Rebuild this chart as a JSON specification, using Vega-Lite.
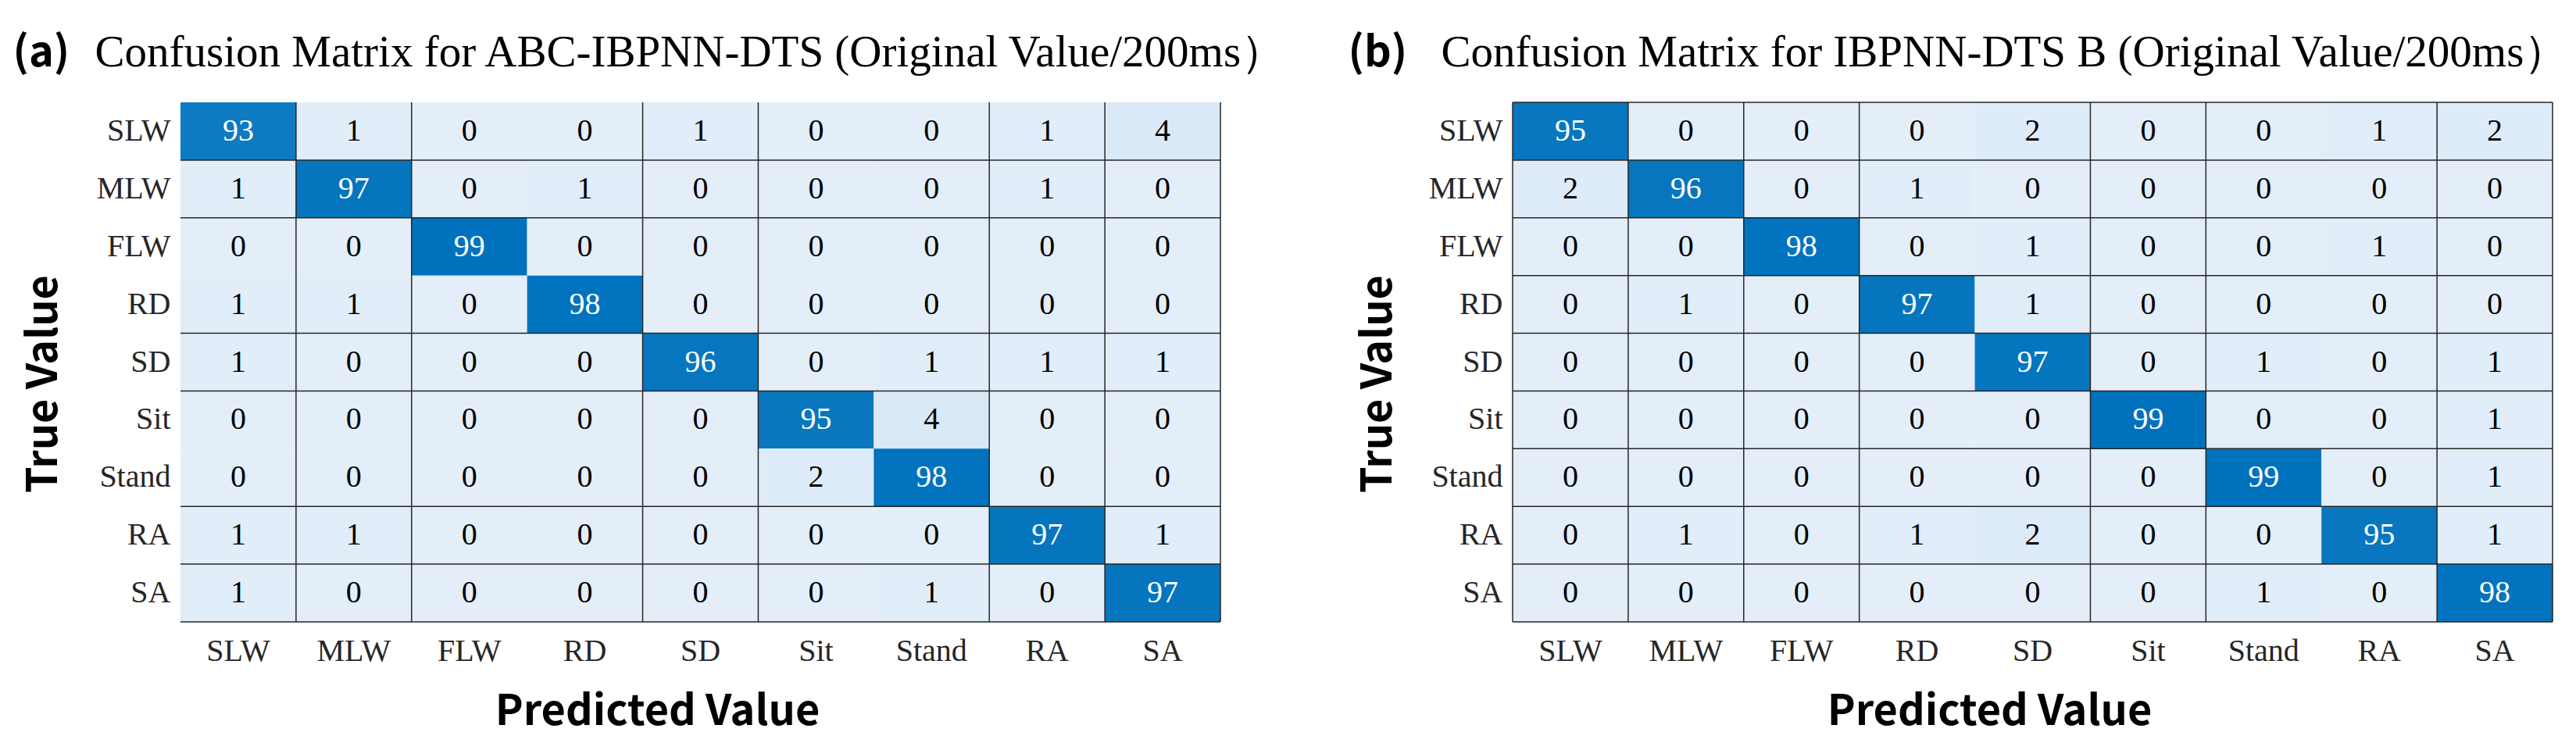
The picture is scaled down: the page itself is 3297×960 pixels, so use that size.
{
  "$schema": "https://vega.github.io/schema/vega-lite/v6.json",
  "background": "#ffffff",
  "padding": {"left": 16, "top": 38, "right": 20, "bottom": 10},
  "bounds": "flush",
  "spacing": 374,
  "config": {"view": {"stroke": null}},
  "hconcat": [
    {
      "width": 1331,
      "height": 665,
      "data": {"values": [
        {"t":"SLW","p":"SLW","v":93},{"t":"SLW","p":"MLW","v":1},{"t":"SLW","p":"FLW","v":0},{"t":"SLW","p":"RD","v":0},{"t":"SLW","p":"SD","v":1},{"t":"SLW","p":"Sit","v":0},{"t":"SLW","p":"Stand","v":0},{"t":"SLW","p":"RA","v":1},{"t":"SLW","p":"SA","v":4},
        {"t":"MLW","p":"SLW","v":1},{"t":"MLW","p":"MLW","v":97},{"t":"MLW","p":"FLW","v":0},{"t":"MLW","p":"RD","v":1},{"t":"MLW","p":"SD","v":0},{"t":"MLW","p":"Sit","v":0},{"t":"MLW","p":"Stand","v":0},{"t":"MLW","p":"RA","v":1},{"t":"MLW","p":"SA","v":0},
        {"t":"FLW","p":"SLW","v":0},{"t":"FLW","p":"MLW","v":0},{"t":"FLW","p":"FLW","v":99},{"t":"FLW","p":"RD","v":0},{"t":"FLW","p":"SD","v":0},{"t":"FLW","p":"Sit","v":0},{"t":"FLW","p":"Stand","v":0},{"t":"FLW","p":"RA","v":0},{"t":"FLW","p":"SA","v":0},
        {"t":"RD","p":"SLW","v":1},{"t":"RD","p":"MLW","v":1},{"t":"RD","p":"FLW","v":0},{"t":"RD","p":"RD","v":98},{"t":"RD","p":"SD","v":0},{"t":"RD","p":"Sit","v":0},{"t":"RD","p":"Stand","v":0},{"t":"RD","p":"RA","v":0},{"t":"RD","p":"SA","v":0},
        {"t":"SD","p":"SLW","v":1},{"t":"SD","p":"MLW","v":0},{"t":"SD","p":"FLW","v":0},{"t":"SD","p":"RD","v":0},{"t":"SD","p":"SD","v":96},{"t":"SD","p":"Sit","v":0},{"t":"SD","p":"Stand","v":1},{"t":"SD","p":"RA","v":1},{"t":"SD","p":"SA","v":1},
        {"t":"Sit","p":"SLW","v":0},{"t":"Sit","p":"MLW","v":0},{"t":"Sit","p":"FLW","v":0},{"t":"Sit","p":"RD","v":0},{"t":"Sit","p":"SD","v":0},{"t":"Sit","p":"Sit","v":95},{"t":"Sit","p":"Stand","v":4},{"t":"Sit","p":"RA","v":0},{"t":"Sit","p":"SA","v":0},
        {"t":"Stand","p":"SLW","v":0},{"t":"Stand","p":"MLW","v":0},{"t":"Stand","p":"FLW","v":0},{"t":"Stand","p":"RD","v":0},{"t":"Stand","p":"SD","v":0},{"t":"Stand","p":"Sit","v":2},{"t":"Stand","p":"Stand","v":98},{"t":"Stand","p":"RA","v":0},{"t":"Stand","p":"SA","v":0},
        {"t":"RA","p":"SLW","v":1},{"t":"RA","p":"MLW","v":1},{"t":"RA","p":"FLW","v":0},{"t":"RA","p":"RD","v":0},{"t":"RA","p":"SD","v":0},{"t":"RA","p":"Sit","v":0},{"t":"RA","p":"Stand","v":0},{"t":"RA","p":"RA","v":97},{"t":"RA","p":"SA","v":1},
        {"t":"SA","p":"SLW","v":1},{"t":"SA","p":"MLW","v":0},{"t":"SA","p":"FLW","v":0},{"t":"SA","p":"RD","v":0},{"t":"SA","p":"SD","v":0},{"t":"SA","p":"Sit","v":0},{"t":"SA","p":"Stand","v":1},{"t":"SA","p":"RA","v":0},{"t":"SA","p":"SA","v":97}
      ]},
      "layer": [
        {
          "mark": {"type": "rect"},
          "encoding": {
            "x": {"field": "p", "type": "nominal",
              "scale": {"domain": ["SLW","MLW","FLW","RD","SD","Sit","Stand","RA","SA"], "paddingInner": 0, "paddingOuter": 0},
              "axis": {"orient": "bottom", "title": "Predicted Value", "labelAngle": 0, "labelFont": "Liberation Serif", "labelFontSize": 40, "labelColor": "#262626", "labelBaseline": "top", "labelPadding": 17, "ticks": false, "tickSize": 0, "domain": false, "grid": false,
                "titleFont": "Noto Sans CJK SC", "titleFontWeight": "bold", "titleFontSize": 54, "titleColor": "#000000", "titleX": 610, "titleY": 131, "titleAlign": "center", "titleBaseline": "alphabetic", "titleAngle": 0}},
            "y": {"field": "t", "type": "nominal",
              "scale": {"domain": ["SLW","MLW","FLW","RD","SD","Sit","Stand","RA","SA"], "paddingInner": 0, "paddingOuter": 0},
              "axis": {"orient": "left", "title": "True Value", "labelFont": "Liberation Serif", "labelFontSize": 40, "labelColor": "#262626", "labelPadding": 13, "ticks": false, "tickSize": 0, "domain": false, "grid": false,
                "titleFont": "Noto Sans CJK SC", "titleFontWeight": "bold", "titleFontSize": 54, "titleColor": "#000000", "titleX": -159, "titleY": 360, "titleAlign": "center", "titleBaseline": "alphabetic", "titleAngle": -90}},
            "color": {"field": "v", "type": "quantitative", "scale": {"domain": [0, 99], "range": ["#E3EEF9", "#0072BD"], "interpolate": "rgb"}, "legend": null}
          }
        },
        {
          "mark": {"type": "text", "font": "Liberation Serif", "fontSize": 40, "baseline": "middle", "align": "center"},
          "encoding": {
            "x": {"field": "p", "type": "nominal",
              "scale": {"domain": ["SLW","MLW","FLW","RD","SD","Sit","Stand","RA","SA"], "paddingInner": 0, "paddingOuter": 0},
              "axis": {"orient": "top", "title": "Confusion Matrix for ABC-IBPNN-DTS (Original Value/200ms）", "labels": false, "ticks": false, "domain": false, "grid": false,
                "titleFont": "Liberation Serif", "titleFontWeight": "normal", "titleFontSize": 57, "titleColor": "#000000", "titleX": -110, "titleY": -47, "titleAlign": "left", "titleBaseline": "alphabetic", "titleAngle": 0}},
            "y": {"field": "t", "type": "nominal",
              "scale": {"domain": ["SLW","MLW","FLW","RD","SD","Sit","Stand","RA","SA"], "paddingInner": 0, "paddingOuter": 0},
              "axis": {"orient": "right", "title": "(a)", "labels": false, "ticks": false, "domain": false, "grid": false,
                "titleFont": "Noto Sans CJK SC", "titleFontWeight": "bold", "titleFontSize": 54, "titleColor": "#000000", "titleX": -1546, "titleY": -47, "titleAlign": "left", "titleBaseline": "alphabetic", "titleAngle": 0}},
            "text": {"field": "v", "type": "quantitative"},
            "color": {"condition": {"test": "datum.v > 50", "value": "#ffffff"}, "value": "#000000"}
          }
        },
        {
          "data": {"values": [{"p":"SLW"},{"p":"MLW"},{"p":"RD"},{"p":"SD"},{"p":"Stand"},{"p":"RA"},{"p":"SA"}]},
          "mark": {"type": "rule", "color": "#262626", "strokeWidth": 1.5},
          "encoding": {
            "x": {"field": "p", "type": "nominal", "bandPosition": 1,
              "scale": {"domain": ["SLW","MLW","FLW","RD","SD","Sit","Stand","RA","SA"], "paddingInner": 0, "paddingOuter": 0}, "axis": null}
          }
        },
        {
          "data": {"values": [{"t":"SLW"},{"t":"MLW"},{"t":"RD"},{"t":"SD"},{"t":"Stand"},{"t":"RA"},{"t":"SA"}]},
          "mark": {"type": "rule", "color": "#262626", "strokeWidth": 1.5},
          "encoding": {
            "y": {"field": "t", "type": "nominal", "bandPosition": 1,
              "scale": {"domain": ["SLW","MLW","FLW","RD","SD","Sit","Stand","RA","SA"], "paddingInner": 0, "paddingOuter": 0}, "axis": null}
          }
        }
      ],
      "resolve": {"axis": {"x": "independent", "y": "independent"}}
    },
    {
      "width": 1331,
      "height": 665,
      "data": {"values": [
        {"t":"SLW","p":"SLW","v":95},{"t":"SLW","p":"MLW","v":0},{"t":"SLW","p":"FLW","v":0},{"t":"SLW","p":"RD","v":0},{"t":"SLW","p":"SD","v":2},{"t":"SLW","p":"Sit","v":0},{"t":"SLW","p":"Stand","v":0},{"t":"SLW","p":"RA","v":1},{"t":"SLW","p":"SA","v":2},
        {"t":"MLW","p":"SLW","v":2},{"t":"MLW","p":"MLW","v":96},{"t":"MLW","p":"FLW","v":0},{"t":"MLW","p":"RD","v":1},{"t":"MLW","p":"SD","v":0},{"t":"MLW","p":"Sit","v":0},{"t":"MLW","p":"Stand","v":0},{"t":"MLW","p":"RA","v":0},{"t":"MLW","p":"SA","v":0},
        {"t":"FLW","p":"SLW","v":0},{"t":"FLW","p":"MLW","v":0},{"t":"FLW","p":"FLW","v":98},{"t":"FLW","p":"RD","v":0},{"t":"FLW","p":"SD","v":1},{"t":"FLW","p":"Sit","v":0},{"t":"FLW","p":"Stand","v":0},{"t":"FLW","p":"RA","v":1},{"t":"FLW","p":"SA","v":0},
        {"t":"RD","p":"SLW","v":0},{"t":"RD","p":"MLW","v":1},{"t":"RD","p":"FLW","v":0},{"t":"RD","p":"RD","v":97},{"t":"RD","p":"SD","v":1},{"t":"RD","p":"Sit","v":0},{"t":"RD","p":"Stand","v":0},{"t":"RD","p":"RA","v":0},{"t":"RD","p":"SA","v":0},
        {"t":"SD","p":"SLW","v":0},{"t":"SD","p":"MLW","v":0},{"t":"SD","p":"FLW","v":0},{"t":"SD","p":"RD","v":0},{"t":"SD","p":"SD","v":97},{"t":"SD","p":"Sit","v":0},{"t":"SD","p":"Stand","v":1},{"t":"SD","p":"RA","v":0},{"t":"SD","p":"SA","v":1},
        {"t":"Sit","p":"SLW","v":0},{"t":"Sit","p":"MLW","v":0},{"t":"Sit","p":"FLW","v":0},{"t":"Sit","p":"RD","v":0},{"t":"Sit","p":"SD","v":0},{"t":"Sit","p":"Sit","v":99},{"t":"Sit","p":"Stand","v":0},{"t":"Sit","p":"RA","v":0},{"t":"Sit","p":"SA","v":1},
        {"t":"Stand","p":"SLW","v":0},{"t":"Stand","p":"MLW","v":0},{"t":"Stand","p":"FLW","v":0},{"t":"Stand","p":"RD","v":0},{"t":"Stand","p":"SD","v":0},{"t":"Stand","p":"Sit","v":0},{"t":"Stand","p":"Stand","v":99},{"t":"Stand","p":"RA","v":0},{"t":"Stand","p":"SA","v":1},
        {"t":"RA","p":"SLW","v":0},{"t":"RA","p":"MLW","v":1},{"t":"RA","p":"FLW","v":0},{"t":"RA","p":"RD","v":1},{"t":"RA","p":"SD","v":2},{"t":"RA","p":"Sit","v":0},{"t":"RA","p":"Stand","v":0},{"t":"RA","p":"RA","v":95},{"t":"RA","p":"SA","v":1},
        {"t":"SA","p":"SLW","v":0},{"t":"SA","p":"MLW","v":0},{"t":"SA","p":"FLW","v":0},{"t":"SA","p":"RD","v":0},{"t":"SA","p":"SD","v":0},{"t":"SA","p":"Sit","v":0},{"t":"SA","p":"Stand","v":1},{"t":"SA","p":"RA","v":0},{"t":"SA","p":"SA","v":98}
      ]},
      "layer": [
        {
          "mark": {"type": "rect"},
          "encoding": {
            "x": {"field": "p", "type": "nominal",
              "scale": {"domain": ["SLW","MLW","FLW","RD","SD","Sit","Stand","RA","SA"], "paddingInner": 0, "paddingOuter": 0},
              "axis": {"orient": "bottom", "title": "Predicted Value", "labelAngle": 0, "labelFont": "Liberation Serif", "labelFontSize": 40, "labelColor": "#262626", "labelBaseline": "top", "labelPadding": 17, "ticks": false, "tickSize": 0, "domain": false, "grid": false,
                "titleFont": "Noto Sans CJK SC", "titleFontWeight": "bold", "titleFontSize": 54, "titleColor": "#000000", "titleX": 610, "titleY": 131, "titleAlign": "center", "titleBaseline": "alphabetic", "titleAngle": 0}},
            "y": {"field": "t", "type": "nominal",
              "scale": {"domain": ["SLW","MLW","FLW","RD","SD","Sit","Stand","RA","SA"], "paddingInner": 0, "paddingOuter": 0},
              "axis": {"orient": "left", "title": "True Value", "labelFont": "Liberation Serif", "labelFontSize": 40, "labelColor": "#262626", "labelPadding": 13, "ticks": false, "tickSize": 0, "domain": false, "grid": false,
                "titleFont": "Noto Sans CJK SC", "titleFontWeight": "bold", "titleFontSize": 54, "titleColor": "#000000", "titleX": -156, "titleY": 360, "titleAlign": "center", "titleBaseline": "alphabetic", "titleAngle": -90}},
            "color": {"field": "v", "type": "quantitative", "scale": {"domain": [0, 99], "range": ["#E3EEF9", "#0072BD"], "interpolate": "rgb"}, "legend": null}
          }
        },
        {
          "mark": {"type": "text", "font": "Liberation Serif", "fontSize": 40, "baseline": "middle", "align": "center"},
          "encoding": {
            "x": {"field": "p", "type": "nominal",
              "scale": {"domain": ["SLW","MLW","FLW","RD","SD","Sit","Stand","RA","SA"], "paddingInner": 0, "paddingOuter": 0},
              "axis": {"orient": "top", "title": "Confusion Matrix for IBPNN-DTS B (Original Value/200ms）", "labels": false, "ticks": false, "domain": false, "grid": false,
                "titleFont": "Liberation Serif", "titleFontWeight": "normal", "titleFontSize": 57, "titleColor": "#000000", "titleX": -92, "titleY": -47, "titleAlign": "left", "titleBaseline": "alphabetic", "titleAngle": 0}},
            "y": {"field": "t", "type": "nominal",
              "scale": {"domain": ["SLW","MLW","FLW","RD","SD","Sit","Stand","RA","SA"], "paddingInner": 0, "paddingOuter": 0},
              "axis": {"orient": "right", "title": "(b)", "labels": false, "ticks": false, "domain": false, "grid": false,
                "titleFont": "Noto Sans CJK SC", "titleFontWeight": "bold", "titleFontSize": 54, "titleColor": "#000000", "titleX": -1542, "titleY": -47, "titleAlign": "left", "titleBaseline": "alphabetic", "titleAngle": 0}},
            "text": {"field": "v", "type": "quantitative"},
            "color": {"condition": {"test": "datum.v > 50", "value": "#ffffff"}, "value": "#000000"}
          }
        },
        {
          "data": {"values": [{"p":"SLW"},{"p":"MLW"},{"p":"FLW"},{"p":"SD"},{"p":"Sit"},{"p":"RA"},{"p":"SA"}]},
          "mark": {"type": "rule", "color": "#262626", "strokeWidth": 1.5},
          "encoding": {
            "x": {"field": "p", "type": "nominal", "bandPosition": 1,
              "scale": {"domain": ["SLW","MLW","FLW","RD","SD","Sit","Stand","RA","SA"], "paddingInner": 0, "paddingOuter": 0}, "axis": null}
          }
        },
        {
          "data": {"values": [{"p":"SLW"}]},
          "mark": {"type": "rule", "color": "#262626", "strokeWidth": 1.5},
          "encoding": {
            "x": {"field": "p", "type": "nominal", "bandPosition": 0,
              "scale": {"domain": ["SLW","MLW","FLW","RD","SD","Sit","Stand","RA","SA"], "paddingInner": 0, "paddingOuter": 0}, "axis": null}
          }
        },
        {
          "data": {"values": [{"t":"SLW"},{"t":"MLW"},{"t":"FLW"},{"t":"RD"},{"t":"SD"},{"t":"Sit"},{"t":"Stand"},{"t":"RA"},{"t":"SA"}]},
          "mark": {"type": "rule", "color": "#262626", "strokeWidth": 1.5},
          "encoding": {
            "y": {"field": "t", "type": "nominal", "bandPosition": 1,
              "scale": {"domain": ["SLW","MLW","FLW","RD","SD","Sit","Stand","RA","SA"], "paddingInner": 0, "paddingOuter": 0}, "axis": null}
          }
        },
        {
          "data": {"values": [{"t":"SLW"}]},
          "mark": {"type": "rule", "color": "#262626", "strokeWidth": 1.5},
          "encoding": {
            "y": {"field": "t", "type": "nominal", "bandPosition": 0,
              "scale": {"domain": ["SLW","MLW","FLW","RD","SD","Sit","Stand","RA","SA"], "paddingInner": 0, "paddingOuter": 0}, "axis": null}
          }
        }
      ],
      "resolve": {"axis": {"x": "independent", "y": "independent"}}
    }
  ]
}
